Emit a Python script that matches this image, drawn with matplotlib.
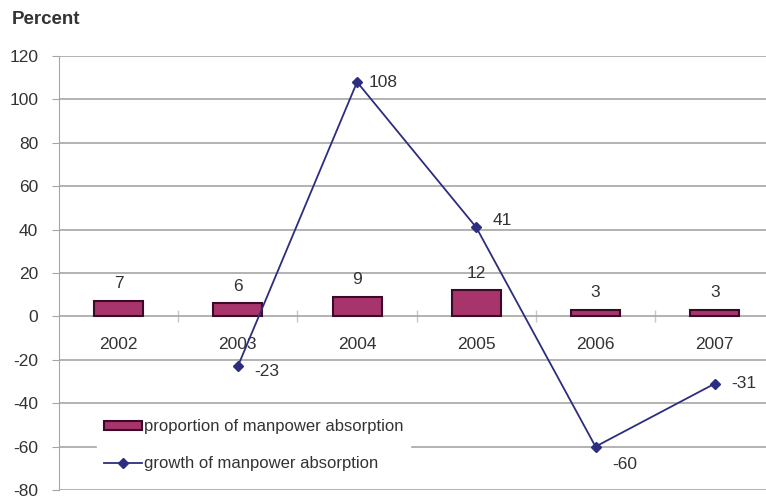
import numpy as np
import matplotlib.pyplot as plt
import matplotlib as mpl

mpl.rcParams['font.family'] = ['Liberation Sans', 'DejaVu Sans']
mpl.rcParams['axes.unicode_minus'] = False

years = ['2002', '2003', '2004', '2005', '2006', '2007']
proportion = [7, 6, 9, 12, 3, 3]
growth_years = ['2003', '2004', '2005', '2006', '2007']
growth = [-23, 108, 41, -60, -31]

bar_c = '#a8346c'
edge_c = '#3a0a28'
line_c = '#2d2d80'
grid_c = '#a6a6a6'
text_c = '#333333'

fig = plt.figure(figsize=(7.66, 4.96), dpi=100)
ax = fig.add_axes([59/766, 1 - 490/496, 1 - 59/766, (490 - 56)/496])

x = np.arange(len(years))
xg = [years.index(y) for y in growth_years]

bars = ax.bar(x, proportion, width=0.41, color=bar_c, edgecolor=edge_c,
              linewidth=1.5, label='proportion of manpower absorption', zorder=3)
line, = ax.plot(xg, growth, color=line_c, lw=1.3, marker='D', ms=5,
                label='growth of manpower absorption', zorder=4)

# value labels
for xi, v in zip(x, proportion):
    ax.annotate(str(v), (xi, v), xytext=(0, 7), textcoords='offset points',
                ha='center', va='bottom', fontsize=12.5, color=text_c)
offsets = {'-23': (21, -4), '108': (19, 0), '41': (19, 5), '-60': (21, -13), '-31': (21, 0)}
for xi, v in zip(xg, growth):
    dx, dy = offsets[str(v)]
    ax.annotate(str(v), (xi, v), xytext=(dx, dy), textcoords='offset points',
                ha='center', va='center', fontsize=12.5, color=text_c)

ax.set_ylim(-80, 120)
ax.set_xlim(-0.5, 5.43)
ax.set_yticks(np.arange(-80, 121, 20))
ax.yaxis.grid(True, color=grid_c, lw=1.2, zorder=0)
ax.tick_params(axis='y', labelsize=12.5, labelcolor=text_c, color=grid_c, length=5, pad=10)

# category axis sits on zero
ax.spines['bottom'].set_position(('data', 0))
ax.spines['bottom'].set_visible(False)
ax.spines['top'].set_visible(False)
ax.spines['right'].set_visible(False)
ax.spines['left'].set_color(grid_c)
ax.set_xticks(x)
ax.set_xticklabels(years)
ax.set_xticks(x[:-1] + 0.5, minor=True)
ax.tick_params(axis='x', which='major', length=0, labelsize=12.5, labelcolor=text_c, pad=15)
ax.tick_params(axis='x', which='minor', length=9, direction='inout', color='#c8c8c8', width=1)

leg = ax.legend(handles=[bars, line], loc='lower left', bbox_to_anchor=(0.04, 0.005), fontsize=12,
                frameon=True, edgecolor='white', framealpha=1, fancybox=False,
                handlelength=2.3, handleheight=0.5, handletextpad=0.1,
                labelspacing=1.3, borderaxespad=0.6)
for t in leg.get_texts():
    t.set_color(text_c)

fig.text(12/766, 1 - 20/496, 'Percent', fontsize=13.5, fontweight='bold',
         color=text_c, va='center', ha='left')

fig.savefig('out.png', dpi=100)
